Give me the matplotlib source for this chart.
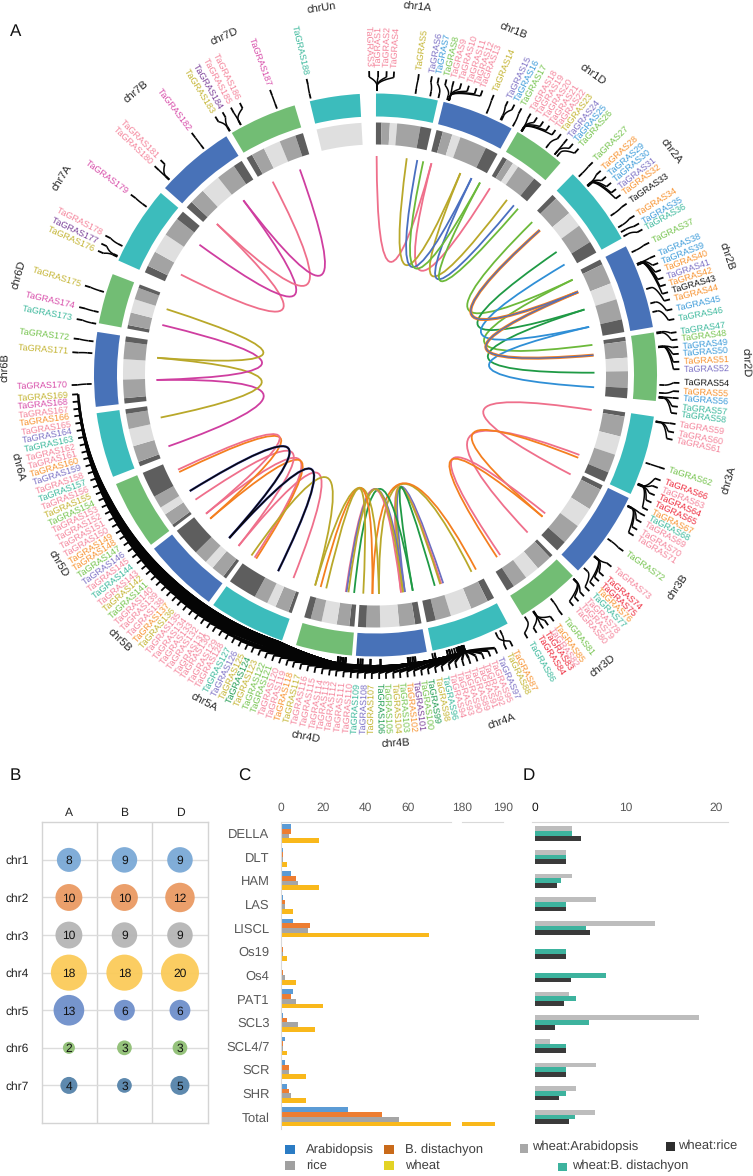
import numpy as np
import matplotlib
matplotlib.use('Agg')
import matplotlib.pyplot as plt
from matplotlib.patches import Wedge, PathPatch, Rectangle
from matplotlib.path import Path

plt.rcParams['font.family'] = ['Liberation Sans', 'DejaVu Sans']
plt.rcParams['text.hinting'] = 'none'
plt.rcParams['text.hinting_factor'] = 1

W, H = 753, 1176

# ---- panel A data, angles are degrees clockwise from the top
sector_names = ['chr1A', 'chr1B', 'chr1D', 'chr2A', 'chr2B', 'chr2D', 'chr3A', 'chr3B', 'chr3D', 'chr4A', 'chr4B',
                'chr4D', 'chr5A', 'chr5B', 'chr5D', 'chr6A', 'chr6B', 'chr6D', 'chr7A', 'chr7B', 'chr7D', 'chrUn']
sector_start = [0.1, 14, 30.3, 44.5, 62.8, 81.3, 98.5, 115.9, 135.5, 152, 169.5,
                184.8, 199.4, 216.3, 232.9, 248.8, 263.5, 280.6, 294, 311.6, 329.3, 346.5]
sector_end = [12.8, 28.9, 41.1, 61, 80.2, 95.3, 115, 134, 148.6, 168.3, 184,
              196.4, 215.2, 231.9, 247.2, 262.2, 278.8, 291, 310.3, 328, 343.3, 356.8]
name_angle = [6.5, 21.8, 35.8, 52.9, 71.3, 88.1, 106.6, 125, 142, 160, 176.8,
              190.9, 207.6, 224, 239.3, 255.5, 271.2, 285.7, 302.2, 319.7, 336, 351.7]

band_sizes = {
    '1': [.10, .15, .13, .42, .20],
    '2': [.07, .27, .22, .27, .17],
    '3': [.06, .28, .26, .26, .14],
    '4': [.10, .25, .30, .22, .13],
    '5': [.05, .20, .13, .20, .42],
    '6': [.08, .28, .30, .26, .08],
    '7': [.10, .22, .28, .27, .13],
}
band_tones = ['#5e5e5e', '#a3a3a3', '#dfdfdf', '#a3a3a3', '#5e5e5e']
subgenome_colors = {'A': '#3cbcbc', 'B': '#4872b8', 'D': '#72bd74', 'n': '#3cbcbc'}

palette = {'pk': '#f4839a', 'ol': '#c3b32f', 'pu': '#7b6fc4', 'bl': '#3a9ad9', 'gr': '#74c34c', 'or': '#f7912d',
           'tl': '#3ab89b', 'k': '#111111', 'rd': '#ee2a3c', 'dg': '#1d9a4d', 'mg': '#d74aa8', 'vi': '#7a3f98'}

gene_ids = [3, 1, 2, 4, 5, 6, 7, 8, 9, 10, 11, 12, 13,
            14, 15, 16, 17, 18, 19, 20, 21, 22, 23, 24, 25, 26,
            27, 28, 29, 30, 31, 32, 33, 34, 35, 36, 37, 38, 39, 40, 41, 42, 43, 44, 45, 46,
            47, 48, 49, 50, 51, 52, 54, 55, 56, 57, 58,
            59, 60, 61, 62, 66, 63, 64, 65, 67, 68, 69, 70, 71, 72,
            73, 74, 75, 76, 77, 78, 79, 80, 81, 85, 82, 83, 84, 86, 87, 88,
            97, 95, 92, 91, 89, 90, 93, 94, 96,
            98, 99, 100, 101, 102, 103, 104, 105, 106, 107, 108, 109,
            110, 111, 112, 113, 114, 115, 116, 117, 118, 119, 120, 121, 122, 123, 124, 125,
            126, 127, 128, 129, 130, 131, 132, 133, 134, 135, 136, 137, 138, 139, 140, 141,
            142, 143, 144, 145, 146, 147, 148, 149, 150, 151, 152, 153, 154, 155, 156, 157,
            158, 159, 160, 161, 162, 163, 164, 165, 166, 167, 168, 169,
            170, 171, 172, 173, 174, 175, 176, 177, 178, 179, 180, 181, 182, 183, 184, 185, 186, 187, 188]
label_angle = [358.8, 0.5, 2.1, 3.5, 8.2, 10.7, 12, 13.5, 14.9, 16.4, 17.9, 19.4, 20.6,
               22.9, 25.8, 27.2, 28.7, 30.7, 32.1, 33.5, 34.9, 36.3, 37.6, 39.1, 40.5, 41.9,
               45.6, 47.8, 49.3, 50.8, 52.3, 53.7, 55.7, 58.4, 60.1, 61.4, 64.2, 66.9, 68.4, 69.8, 71.3, 72.7, 74.2,
               75.6, 77.5, 79.4,
               81.9, 83.3, 84.7, 86, 87.5, 88.9, 91.5, 93.1, 94.4, 96, 97.3,
               99.3, 100.9, 102.3, 108, 110.3, 111.8, 113.3, 114.8, 116.4, 117.6, 119, 120.6, 121.9, 125.4,
               129.1, 131.4, 132.7, 134, 135.3, 136.7, 138.1, 139.4, 142.1, 144.1, 145.4, 146.5, 148, 150, 153.2, 154.5,
               156.4, 157.8, 159.1, 160.4, 161.8, 163.1, 164.5, 165.8, 167.2,
               168.5, 169.9, 171.2, 172.6, 173.9, 175.3, 176.6, 178, 179.3, 180.7, 182, 183.4,
               184.7, 186.1, 187.5, 188.8, 190.2, 191.6, 193, 194.4, 195.8, 197.1, 198.5, 199.9, 201.3, 202.7, 204.1, 205.4,
               206.8, 208.2, 209.6, 211, 212.4, 213.7, 215.1, 216.5, 217.9, 219.3, 220.7, 222, 223.4, 224.8, 226.2, 227.6,
               229, 230.3, 231.7, 233.1, 234.5, 235.9, 237.3, 238.6, 240, 241.4, 242.8, 244.2, 245.6, 246.9, 248.3, 249.7,
               251.1, 252.5, 253.9, 255.2, 256.6, 258, 259.4, 260.8, 262.2, 263.5, 264.9, 266.3,
               268.1, 274.3, 276.9, 280.6, 282.9, 287.1, 294.1, 295.6, 297.3, 306.4, 313.4, 315, 322.8, 328.2, 329.8,
               331.6, 333.5, 339.7, 346.9]
gene_angle = [0.3, 0.3, 0.3, 0.3, 8.1, 11.1, 12.8, 14.6, 15, 15, 15, 15, 15,
              23, 26.1, 26.3, 28.9, 30.9, 30.9, 30.9, 31, 31, 36.9, 39.1, 39.1, 39.7,
              45.7, 48.2, 48.2, 48.3, 48.3, 48.4, 55.9, 58.7, 59.8, 60.8, 64.4, 67, 67, 67.1, 67.1, 67.2, 67.2,
              72.4, 75.4, 77.2,
              81.4, 81.6, 84.3, 84.3, 84.4, 84.4, 92, 93.6, 94.4, 94.5, 94.6,
              99.4, 99.4, 99.5, 108, 112.5, 112.5, 112.6, 112.6, 112.7, 117.4, 117.4, 117.5, 117.5, 125.2,
              129.6, 129.6, 129.7, 129.7, 132.8, 135.8, 135.8, 135.9, 141.9, 146.2, 146.2, 146.3, 146.3, 148.3, 155, 154,
              162, 162, 162, 162.1, 162.1, 162.2, 162.2, 162.3, 163,
              163, 163.5, 165, 165, 168, 168, 168.5, 172, 172.3, 172.6, 173, 173.3,
              173.5, 173.5, 179, 179, 179, 181, 181, 181, 182.6, 182.6, 183, 183, 183.5, 183.5, 186, 186,
              162.2, 162.4, 162.5, 162.6, 186, 186.5, 187, 187.5, 162.7, 162.8, 163, 163.2, 187.5, 187.5, 186.5, 186,
              162.4, 162.6, 162.8, 163, 163.3, 163.5, 164, 164.5, 187, 187, 187.5, 187.5, 162.5, 162.5, 163, 163,
              165, 165, 165.5, 165.5, 187, 187.5, 187, 187.5, 186, 186, 186.5, 186.5,
              268.2, 274.4, 276.8, 280.4, 282.8, 287, 294.6, 294.8, 297, 306.3, 313.4, 313.5, 322.8, 329.1, 329.2,
              331.7, 331.7, 339.7, 346.8]
label_color = ('pk pk pk pk ol pu bl gr pk pk pk pk pk '
               'ol pu bl gr pk pk pk pk pk ol pu bl gr '
               'gr or bl bl pu or k or bl tl gr bl bl or pu or k or bl tl '
               'tl gr bl bl or pu k or bl tl tl '
               'pk pk pk gr rd pk rd rd or tl pk pk pk gr '
               'pk rd rd or tl pk pk pk gr or pk rd rd tl or ol '
               'pu pk pk pk pk pk pk pk tl '
               'ol dg gr vi or gr ol gr dg ol pu tl '
               'pk pk pk pk pk pk pk ol or pk pk gr gr ol dg ol pu tl '
               'pk pk pk pk pk pk pk pk ol or pk pk pk gr ol pk tl pk pu gr or or '
               'pk pk pk pk gr ol pk tl pk pu or pk pk tl pu pk or pk mg ol '
               'mg ol gr tl mg ol ol vi pk mg pk pk mg ol vi pk pk mg tl').split()

link_from = [0.3, 14.8, 8.2, 22.8, 11, 26, 12.6, 28.5,
             45.7, 64.2, 48.6, 67.7, 55.8, 72.6, 59.7, 77.3,
             99.2, 111.4, 112.2, 129.2, 130.3,
             154, 152.7, 162, 162.5, 162.8, 164.3,
             185.6, 187.8, 187.6, 187.1, 196, 194.5, 193,
             202, 206.4, 213.5, 213, 214.5, 218.7, 221.9, 229, 230.7,
             251, 258.8, 268.7, 274.5,
             297.3, 306.5, 313.6, 322.9]
link_to = [14.8, 31.5, 22.8, 36.9, 26, 39.2, 28.5, 40.6,
           64.2, 82.1, 67.7, 84.8, 72.6, 89.4, 77.3, 93.2,
           117, 136, 130.3, 145.3, 146.3,
           179.1, 180.8, 172.3, 173.3, 172.8, 170.2,
           170.2, 173.3, 172.3, 172.8, 179.1, 180.8, 183.2,
           218.7, 221.9, 230.7, 229, 196, 235.3, 238, 243.7, 244.4,
           268.7, 274.5, 283.2, 287.5,
           313.6, 322.9, 332, 339.8]
link_color = ['#ef6f8b', '#ef6f8b', '#b9a82a', '#b9a82a', '#4a6fc0', '#4a6fc0', '#6cb93a', '#6cb93a',
              '#6cb93a', '#6cb93a', 'or+bl', 'or+bl', '#1f9a45', '#1f9a45', '#2f8fd6', '#2f8fd6',
              '#ef6f8b', '#ef6f8b', '#f47f1f', '#ef6f8b', '#f47f1f',
              '#b9a82a', '#f47f1f', '#6a6fc0', '#ef6f8b', '#b9a82a', '#1f9a45',
              '#1f9a45', '#ef6f8b', '#6a6fc0', '#b9a82a', '#b9a82a', '#f47f1f', '#b9a82a',
              '#ef6f8b', 'k+bl', '#ef6f8b', '#f47f1f', '#b9a82a', '#ef6f8b', 'k+bl', '#f47f1f', '#ef6f8b',
              '#cf3ea0', '#b9a82a', '#cf3ea0', '#b9a82a',
              '#ef6f8b', '#cf3ea0', '#ef6f8b', '#cf3ea0']

# ---- panel B data
chrom_rows = ['chr1', 'chr2', 'chr3', 'chr4', 'chr5', 'chr6', 'chr7']
subgenomes = ['A', 'B', 'D']
counts_a = [8, 10, 10, 18, 13, 2, 4]
counts_b = [9, 10, 9, 18, 6, 3, 3]
counts_d = [9, 12, 9, 20, 6, 3, 5]
row_colors = ['#7aa9d6', '#ea9a63', '#b5b5b5', '#fbcb59', '#6f8fcb', '#8fbf74', '#5583aa']

# ---- panel C data
families = ['DELLA', 'DLT', 'HAM', 'LAS', 'LISCL', 'Os19', 'Os4', 'PAT1', 'SCL3', 'SCL4/7', 'SCR', 'SHR', 'Total']
arabidopsis = [5, 1, 5, 1, 6, 0, 0, 6, 1, 2, 2, 3, 32]
distachyon = [5, 1, 7, 2, 14, 1, 1, 5, 3, 1, 4, 4, 48]
rice = [4, 1, 8, 2, 13, 1, 2, 7, 8, 1, 4, 5, 56]
wheat = [18, 3, 18, 6, 70, 3, 7, 20, 16, 3, 12, 12, 188]

# ---- panel D data
wheat_arabidopsis = [4.07, 3.4, 4.07, 6.8, 13.2, 0, 0, 3.8, 18.1, 1.7, 6.8, 4.5, 6.6]
wheat_distachyon = [4.07, 3.4, 2.9, 3.4, 5.65, 3.4, 7.9, 4.5, 6.0, 3.4, 3.4, 3.4, 4.4]
wheat_rice = [5.06, 3.4, 2.5, 3.4, 6.1, 3.4, 4.0, 3.2, 2.2, 3.4, 3.4, 2.7, 3.8]


def box(x0, y0, x1, y1):
    return [x0 / W, 1 - y1 / H, (x1 - x0) / W, (y1 - y0) / H]


def polar(angle, r):
    a = np.radians(angle)
    return r * np.sin(a), r * np.cos(a)


def wedge(ax, a0, a1, r0, r1, color):
    ax.add_patch(Wedge((0, 0), r1, 90 - a1, 90 - a0, width=r1 - r0, fc=color, ec='none', zorder=2))


def draw_link(ax, a0, a1, color, lw=1.3, z=1):
    p0 = np.array(polar(a0, 219))
    p1 = np.array(polar(a1, 219))
    ctrl = (p0 + p1) / 2 * 0.05
    path = Path([p0, ctrl, p1], [Path.MOVETO, Path.CURVE3, Path.CURVE3])
    ax.add_patch(PathPatch(path, fc='none', ec=color, lw=lw, zorder=z, capstyle='butt'))


fig = plt.figure(figsize=(W / 100, H / 100), dpi=100)

# ---- panel A, one axes unit is one pixel
ax = fig.add_axes(box(0, 0, W, 760))
ax.set_xlim(-375.5, W - 375.5)
ax.set_ylim(-385, 375)
ax.axis('off')

for name, a0, a1, na in zip(sector_names, sector_start, sector_end, name_angle):
    wedge(ax, a0, a1, 258.5, 281.5, subgenome_colors[name[-1]])
    if name == 'chrUn':
        wedge(ax, a0, a1, 230.5, 252.5, '#dfdfdf')
    else:
        edge = a0
        for size, tone in zip(band_sizes[name[3]], band_tones):
            wedge(ax, edge, edge + size * (a1 - a0), 230.5, 252.5, tone)
            edge += size * (a1 - a0)
    rot = -na if (na < 90 or na > 270) else 180 - na
    x, y = polar(na, 370)
    ax.text(x, y, name, rotation=rot, ha='center', va='center', rotation_mode='anchor',
            fontsize=7.7, color='#222222')

for a0, a1, c in zip(link_from, link_to, link_color):
    if c == 'or+bl':
        draw_link(ax, a0, a1, '#f47f1f', lw=2.2, z=1.2)
        draw_link(ax, a0, a1, '#4a6fc0', lw=0.9, z=1.3)
    elif c == 'k+bl':
        draw_link(ax, a0, a1, '#5a62c8', lw=1.7, z=1.2)
        draw_link(ax, a0, a1, '#08080f', lw=1.2, z=1.3)
    else:
        draw_link(ax, a0, a1, c)

env_angle = [150, 188, 200, 225, 245, 262, 275]
env_r = [291, 291, 283, 283, 285, 294, 296]

for gid, la, ga, code in zip(gene_ids, label_angle, gene_angle, label_color):
    la_c = la - 360 if la > 350 else la
    t = np.linspace(0, 1, 60)
    theta = ga + (la_c - ga) * t
    if 89 <= gid <= 169:
        # the crowded bottom left genes run along the ring as one thick band
        base = np.interp(theta, env_angle, env_r)
        r = base + (298 - base) * t ** 1.5
        lw = 1.8
        stub = base[0]
    else:
        r = 289 + 9 * t ** 0.5
        lw = 1.1
        stub = 289
    x, y = polar(theta, r)
    ax.plot(x, y, color='#050505', lw=lw, zorder=3, solid_capstyle='butt')
    x, y = polar(np.array([ga, ga]), np.array([284, stub]))
    ax.plot(x, y, color='#050505', lw=1.3, zorder=3, solid_capstyle='butt')
    x, y = polar(np.array([la_c, la_c]), np.array([298, 304]))
    ax.plot(x, y, color='#050505', lw=1.3, zorder=3, solid_capstyle='butt')

    x, y = polar(la, 308)
    if la < 180:
        rot, ha = 90 - la, 'left'
    else:
        rot, ha = 270 - la, 'right'
    ax.text(x, y, 'TaGRAS%d' % gid, rotation=rot, ha=ha, va='center', rotation_mode='anchor',
            fontsize=6.4, color=palette[code])

# ---- panel B
axb = fig.add_axes(box(41.7, 822.3, 208, 1123))
axb.set_xlim(-0.49, 2.505)
axb.set_ylim(7, -1)
axb.xaxis.tick_top()
axb.set_xticks(range(3), subgenomes)
axb.set_yticks(range(7), chrom_rows)
axb.tick_params(length=0, labelsize=8.8, labelcolor='#222222')
axb.tick_params(axis='y', pad=9.6)
axb.tick_params(axis='x', pad=2.5)
axb.grid(axis='y', color='#dcdcdc', lw=1)
axb.set_axisbelow(True)
for x in (0.5, 1.5):
    axb.axvline(x, color='#d4d4d4', lw=1, zorder=0)
for s in axb.spines.values():
    s.set_color('#d4d4d4')
    s.set_linewidth(1)
for col, vals in enumerate([counts_a, counts_b, counts_d]):
    axb.scatter([col] * 7, range(7), s=[37.5 * v for v in vals], c=row_colors, alpha=0.95, lw=0, zorder=3)
    for row, v in enumerate(vals):
        axb.text(col, row + 0.03, str(v), ha='center', va='center', fontsize=8.6, color='#111111', zorder=4)

# ---- panel C, broken axis
bar_colors = ['#5b9bd5', '#ed7d31', '#a5a5a5', '#f9b81b']
axc = fig.add_axes(box(280.7, 821.7, 450.7, 1128.7))
axc2 = fig.add_axes(box(462.3, 821.7, 502.7, 1128.7))
pos = np.arange(len(families))
for a in (axc, axc2):
    for off, vals, c in zip((-0.3, -0.1, 0.1, 0.3), (arabidopsis, distachyon, rice, wheat), bar_colors):
        a.barh(pos + off, vals, height=0.2, color=c, lw=0)
    a.set_ylim(12.5, -0.5)
    a.xaxis.tick_top()
    a.tick_params(axis='x', length=0, labelsize=8.6, labelcolor='#595959', pad=6)
    for s in ('right', 'bottom'):
        a.spines[s].set_visible(False)
    a.spines['top'].set_color('#d9d9d9')
    a.spines['left'].set_color('#d9d9d9')
axc.set_xlim(0, 80.3)
axc.set_xticks([0, 20, 40, 60])
axc.set_yticks(pos, families)
axc.tick_params(axis='y', length=0, labelsize=9.2, labelcolor='#595959', pad=8)
axc2.set_xlim(180, 190)
axc2.set_xticks([180, 190])
axc2.set_yticks([])
axc2.spines['left'].set_visible(False)

# ---- panel D
ratio_colors = ['#bdbdbd', '#3db39e', '#3a3a3a']
axd = fig.add_axes(box(532.3, 821.7, 727.7, 1128.7))
for off, vals, c in zip((-0.2, 0, 0.2), (wheat_arabidopsis, wheat_distachyon, wheat_rice), ratio_colors):
    axd.barh(pos + off, vals, height=0.2, color=c, lw=0)
axd.set_xlim(-0.26, 21.26)
axd.set_ylim(12.5, -0.5)
axd.xaxis.tick_top()
axd.set_xticks([0, 10, 20])
axd.set_yticks([])
axd.tick_params(axis='x', length=0, labelsize=8.6, labelcolor='#595959', pad=6)
axd.get_xticklabels()[0].set_color('#111111')
for s in ('left', 'right', 'bottom'):
    axd.spines[s].set_visible(False)
axd.spines['top'].set_color('#d9d9d9')


def legend_item(cx, cy, tx, ty, text, color, size, fs):
    fig.add_artist(Rectangle(((cx - size / 2) / W, 1 - (cy + size / 2) / H), size / W, size / H,
                             transform=fig.transFigure, fc=color, ec='none'))
    fig.text(tx / W, 1 - ty / H, text, fontsize=fs, color='#404040', ha='left', va='center')


legend_item(290, 1149.5, 306, 1149.5, 'Arabidopsis', '#2b7cc4', 9.5, 9.3)
legend_item(389, 1149.5, 405, 1149.5, 'B. distachyon', '#c96a1a', 9.5, 9.3)
legend_item(290, 1165.7, 306, 1165.7, 'rice', '#a0a0a0', 9.5, 9.3)
legend_item(389, 1165.7, 405, 1165.7, 'wheat', '#e3d325', 9.5, 9.3)
legend_item(524, 1148.3, 532.3, 1147.3, 'wheat:Arabidopsis', '#a8a8a8', 8.8, 9.4)
legend_item(670.7, 1146.7, 678.3, 1145.7, 'wheat:rice', '#2e2e2e', 8.8, 9.4)
legend_item(562.3, 1167, 571.7, 1165.7, 'wheat:B. distachyon', '#3db39e', 8.8, 9.4)

for letter, x, y in (('A', 15.7, 32), ('B', 15.7, 776), ('C', 244, 776), ('D', 529, 776)):
    fig.text(x / W, 1 - y / H, letter, fontsize=12.5, color='#111111', ha='center', va='center')

fig.savefig('out.png', dpi=100)
